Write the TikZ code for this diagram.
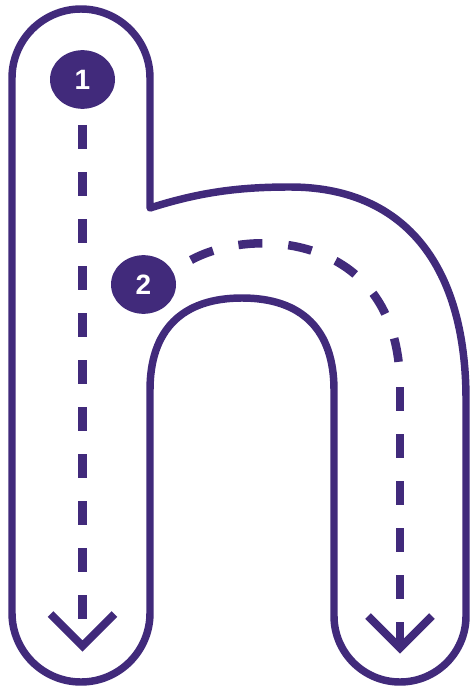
\documentclass[tikz,border=0pt]{standalone}
\usepackage{xcolor}
\usepackage{tikz}
\usepackage{fontspec}
\setmainfont{Liberation Sans}
\usetikzlibrary{shapes.geometric, positioning, calc}
\definecolor{letterpurple}{RGB}{65, 42, 123}

\begin{document}
\begin{tikzpicture}[x=0.75pt, y=-0.75pt,
    outline/.style={draw=letterpurple, line width=5.6pt, line join=round},
    stepdot/.style={ellipse, fill=letterpurple, minimum width=48.75pt, minimum height=44pt,
                    inner sep=0pt, text=white, font=\fontsize{21}{24}\selectfont\bfseries},
    trace/.style={draw=letterpurple, line width=6.4pt, dash pattern=on 18pt off 17.25pt},
    chevron/.style={draw=letterpurple, line width=6pt, line join=miter}]
  \useasboundingbox (0,0) rectangle (470,688);

  % letter h
  \draw[outline] (12,78) arc[start angle=180, end angle=360, radius=69]
    -- (150,208) .. controls (200,192) and (240,187) .. (290,187)
    .. controls (400,187) and (466,260) .. (466,400)
    -- (466,616) arc[start angle=0, end angle=180, radius=66]
    -- (334,390) .. controls (334,330) and (302,298) .. (242,298)
    .. controls (182,298) and (150,330) .. (150,390)
    -- (150,613) arc[start angle=0, end angle=180, radius=69] -- cycle;

  % step markers
  \node[stepdot] (one) at (82.5,79.5) {1};
  \node[stepdot] (two) at (143.5,284.5) {2};

  \coordinate (start1) at (82.5,125);
  \coordinate (end1) at (82.5,646);
  \coordinate (start2) at (191,260);
  \coordinate (bend2) at (400,387);
  \coordinate (end2) at (400,648);

  % stroke 1
  \draw[trace] (start1) -- (end1);
  \draw[chevron] ($(end1)+(-32,-32)$) -- (end1) -- ($(end1)+(32,-32)$);

  % stroke 2
  \draw[trace, dash pattern=on 18pt off 19.5pt] (start2) .. controls (255,225) and (400,235) .. (bend2);
  \draw[trace] (bend2) -- (end2);
  \draw[chevron] ($(end2)+(-32,-32)$) -- (end2) -- ($(end2)+(32,-32)$);
\end{tikzpicture}
\end{document}
